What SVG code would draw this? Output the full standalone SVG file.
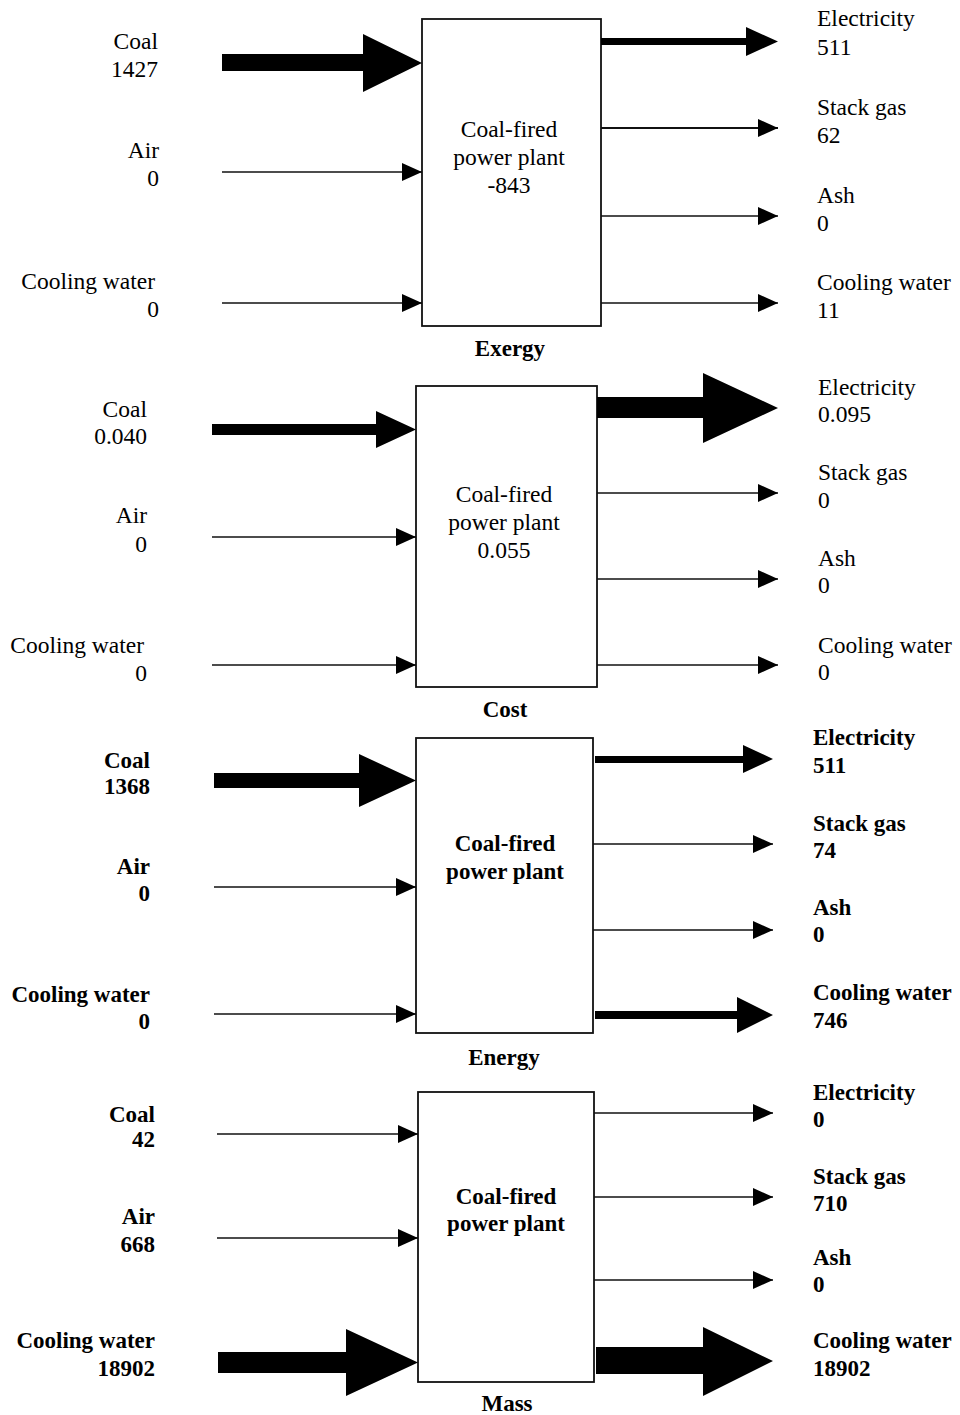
<svg xmlns="http://www.w3.org/2000/svg" width="960" height="1415" viewBox="0 0 960 1415">
  <style>
    .box { fill: #ffffff; stroke: #111111; stroke-width: 1.8; }
    .flow { stroke: #111111; stroke-width: 1.3; fill: none; }
    .flow2 { stroke: #111111; stroke-width: 2.2; fill: none; }
    .fat { fill: #000000; stroke: none; }
    text { font-family: "Liberation Serif", "Times New Roman", serif; font-size: 23.5px; fill: #000000; }
    .b { font-weight: bold; font-size: 23px; }
    .r { text-anchor: end; }
    .c { text-anchor: middle; }
  </style>
  <defs>
    <marker id="head" markerUnits="userSpaceOnUse" markerWidth="20" markerHeight="20" viewBox="0 0 20 20" refX="20" refY="10" orient="auto">
      <path d="M0,1 L20,10 L0,19 Z" fill="#000000"/>
    </marker>
  </defs>

  <!-- Exergy panel -->
  <g id="exergy">
    <rect class="box" x="422" y="19" width="179" height="307"/>
    <text class="c" x="509" y="137">Coal-fired</text>
    <text class="c" x="509" y="165">power plant</text>
    <text class="c" x="509" y="193">-843</text>
    <text class="c b" x="510" y="356">Exergy</text>
    <text class="r" x="158" y="49">Coal</text>
    <text class="r" x="158" y="77">1427</text>
    <text class="r" x="159" y="158">Air</text>
    <text class="r" x="159" y="186">0</text>
    <text class="r" x="155" y="289">Cooling water</text>
    <text class="r" x="159" y="317">0</text>
    <text x="817" y="26">Electricity</text>
    <text x="817" y="55">511</text>
    <text x="817" y="115">Stack gas</text>
    <text x="817" y="143">62</text>
    <text x="817" y="203">Ash</text>
    <text x="817" y="231">0</text>
    <text x="817" y="290">Cooling water</text>
    <text x="817" y="318">11</text>
  </g>

  <!-- Cost panel -->
  <g id="cost">
    <rect class="box" x="416" y="386" width="181" height="301"/>
    <text class="c" x="504" y="502">Coal-fired</text>
    <text class="c" x="504" y="530">power plant</text>
    <text class="c" x="504" y="558">0.055</text>
    <text class="c b" x="505" y="717">Cost</text>
    <text class="r" x="147" y="417">Coal</text>
    <text class="r" x="147" y="444">0.040</text>
    <text class="r" x="147" y="523">Air</text>
    <text class="r" x="147" y="552">0</text>
    <text class="r" x="144" y="653">Cooling water</text>
    <text class="r" x="147" y="681">0</text>
    <text x="818" y="395">Electricity</text>
    <text x="818" y="422">0.095</text>
    <text x="818" y="480">Stack gas</text>
    <text x="818" y="508">0</text>
    <text x="818" y="566">Ash</text>
    <text x="818" y="593">0</text>
    <text x="818" y="653">Cooling water</text>
    <text x="818" y="680">0</text>
  </g>

  <!-- Energy panel -->
  <g id="energy">
    <rect class="box" x="416" y="738" width="177" height="295"/>
    <text class="c b" x="505" y="851">Coal-fired</text>
    <text class="c b" x="505" y="879">power plant</text>
    <text class="c b" x="504" y="1065">Energy</text>
    <text class="r b" x="150" y="768">Coal</text>
    <text class="r b" x="150" y="794">1368</text>
    <text class="r b" x="150" y="874">Air</text>
    <text class="r b" x="150" y="901">0</text>
    <text class="r b" x="150" y="1002">Cooling water</text>
    <text class="r b" x="150" y="1029">0</text>
    <text class="b" x="813" y="745">Electricity</text>
    <text class="b" x="813" y="773">511</text>
    <text class="b" x="813" y="831">Stack gas</text>
    <text class="b" x="813" y="858">74</text>
    <text class="b" x="813" y="915">Ash</text>
    <text class="b" x="813" y="942">0</text>
    <text class="b" x="813" y="1000">Cooling water</text>
    <text class="b" x="813" y="1028">746</text>
  </g>

  <!-- Mass panel -->
  <g id="mass">
    <rect class="box" x="418" y="1092" width="176" height="290"/>
    <text class="c b" x="506" y="1204">Coal-fired</text>
    <text class="c b" x="506" y="1231">power plant</text>
    <text class="c b" x="507" y="1411">Mass</text>
    <text class="r b" x="155" y="1122">Coal</text>
    <text class="r b" x="155" y="1147">42</text>
    <text class="r b" x="155" y="1224">Air</text>
    <text class="r b" x="155" y="1252">668</text>
    <text class="r b" x="155" y="1348">Cooling water</text>
    <text class="r b" x="155" y="1376">18902</text>
    <text class="b" x="813" y="1100">Electricity</text>
    <text class="b" x="813" y="1127">0</text>
    <text class="b" x="813" y="1184">Stack gas</text>
    <text class="b" x="813" y="1211">710</text>
    <text class="b" x="813" y="1265">Ash</text>
    <text class="b" x="813" y="1292">0</text>
    <text class="b" x="813" y="1348">Cooling water</text>
    <text class="b" x="813" y="1376">18902</text>
  </g>

  <!-- Flow arrows -->
  <g id="connectors">
    <!-- exergy -->
    <polygon class="fat" points="222,54 363,54 363,34 422,63 363,92 363,71 222,71"/>
    <line class="flow" x1="222" y1="172" x2="422" y2="172" marker-end="url(#head)"/>
    <line class="flow" x1="222" y1="303" x2="422" y2="303" marker-end="url(#head)"/>
    <polygon class="fat" points="601,38 746,38 746,27 778,41.5 746,56 746,45 601,45"/>
    <line class="flow2" x1="601" y1="128" x2="778" y2="128" marker-end="url(#head)"/>
    <line class="flow" x1="601" y1="216" x2="778" y2="216" marker-end="url(#head)"/>
    <line class="flow" x1="601" y1="303" x2="778" y2="303" marker-end="url(#head)"/>
    <!-- cost -->
    <polygon class="fat" points="212,424 376,424 376,411 416,429.5 376,448 376,435 212,435"/>
    <line class="flow" x1="212" y1="537" x2="416" y2="537" marker-end="url(#head)"/>
    <line class="flow" x1="212" y1="665" x2="416" y2="665" marker-end="url(#head)"/>
    <polygon class="fat" points="597,397 703,397 703,373 778,408 703,443 703,418 597,418"/>
    <line class="flow" x1="597" y1="493" x2="778" y2="493" marker-end="url(#head)"/>
    <line class="flow" x1="597" y1="579" x2="778" y2="579" marker-end="url(#head)"/>
    <line class="flow" x1="597" y1="665" x2="778" y2="665" marker-end="url(#head)"/>
    <!-- energy -->
    <polygon class="fat" points="214,773 359,773 359,754 416,780.5 359,807 359,788 214,788"/>
    <line class="flow" x1="214" y1="887" x2="416" y2="887" marker-end="url(#head)"/>
    <line class="flow" x1="214" y1="1014" x2="416" y2="1014" marker-end="url(#head)"/>
    <polygon class="fat" points="595,756 743,756 743,745 773,759 743,773 743,763 595,763"/>
    <line class="flow" x1="593" y1="844" x2="773" y2="844" marker-end="url(#head)"/>
    <line class="flow" x1="593" y1="930" x2="773" y2="930" marker-end="url(#head)"/>
    <polygon class="fat" points="595,1011 737,1011 737,997 773,1015 737,1033 737,1019 595,1019"/>
    <!-- mass -->
    <line class="flow" x1="217" y1="1134" x2="418" y2="1134" marker-end="url(#head)"/>
    <line class="flow" x1="217" y1="1238" x2="418" y2="1238" marker-end="url(#head)"/>
    <polygon class="fat" points="218,1352 346,1352 346,1329 418,1362.5 346,1396 346,1373 218,1373"/>
    <line class="flow" x1="594" y1="1113" x2="773" y2="1113" marker-end="url(#head)"/>
    <line class="flow" x1="594" y1="1197" x2="773" y2="1197" marker-end="url(#head)"/>
    <line class="flow" x1="594" y1="1280" x2="773" y2="1280" marker-end="url(#head)"/>
    <polygon class="fat" points="596,1347 703,1347 703,1327 773,1361 703,1396 703,1374 596,1374"/>
  </g>
</svg>
